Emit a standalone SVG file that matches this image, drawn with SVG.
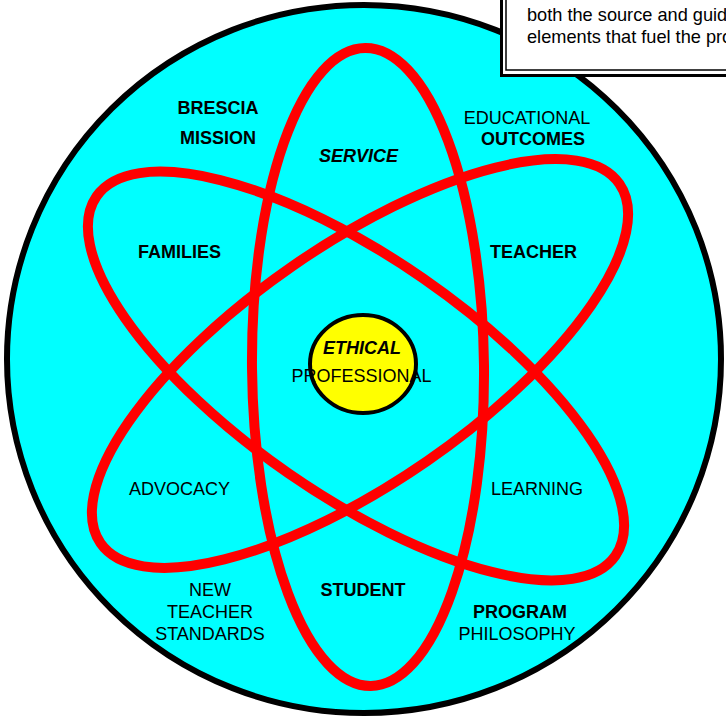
<svg xmlns="http://www.w3.org/2000/svg" width="726" height="723" viewBox="0 0 726 723">
  <style>
    .lbl { font-family: "Liberation Sans", Arial, sans-serif; font-size: 18px; fill: #000; text-anchor: middle; }
    .b { font-weight: bold; }
    .bi { font-weight: bold; font-style: italic; }
    .ring { fill: none; stroke: #ff0000; stroke-width: 10; }
    .note { font-family: "Liberation Sans", Arial, sans-serif; font-size: 18.2px; fill: #000; }
  </style>
  <rect width="726" height="723" fill="#ffffff"/>

  <!-- outer disc -->
  <g id="disc">
    <ellipse cx="364" cy="359" rx="357" ry="354" fill="#00ffff" stroke="#000" stroke-width="6"/>
  </g>

  <!-- three orbit rings -->
  <g id="rings">
    <ellipse class="ring" cx="0" cy="0" rx="116" ry="319" transform="translate(368 367) rotate(-0.5)"/>
    <ellipse class="ring" cx="0" cy="0" rx="315.6" ry="118.5" transform="translate(360 363.5) rotate(-34.7)"/>
    <ellipse class="ring" cx="0" cy="0" rx="315.6" ry="118.5" transform="translate(356 376) rotate(34.7)"/>
  </g>

  <!-- nucleus -->
  <g id="nucleus">
    <ellipse cx="363" cy="364" rx="53" ry="49" fill="#ffff00" stroke="#000" stroke-width="4"/>
    <text class="lbl bi" x="362" y="354">ETHICAL</text>
    <text class="lbl" x="361.5" y="382">PROFESSIONAL</text>
  </g>

  <!-- labels around the rings -->
  <g id="brescia-mission">
    <text class="lbl b" x="218" y="114">BRESCIA</text>
    <text class="lbl b" x="218" y="144">MISSION</text>
  </g>
  <g id="service"><text class="lbl bi" x="358.5" y="162">SERVICE</text></g>
  <g id="educational-outcomes">
    <text class="lbl" x="527" y="124">EDUCATIONAL</text>
    <text class="lbl b" x="533" y="145">OUTCOMES</text>
  </g>
  <g id="families"><text class="lbl b" x="179.5" y="258">FAMILIES</text></g>
  <g id="teacher"><text class="lbl b" x="533.5" y="258">TEACHER</text></g>
  <g id="advocacy"><text class="lbl" x="179.5" y="495">ADVOCACY</text></g>
  <g id="learning"><text class="lbl" x="537" y="495">LEARNING</text></g>
  <g id="student"><text class="lbl b" x="363" y="596">STUDENT</text></g>
  <g id="new-teacher-standards">
    <text class="lbl" x="210" y="596">NEW</text>
    <text class="lbl" x="210" y="618">TEACHER</text>
    <text class="lbl" x="210" y="640">STANDARDS</text>
  </g>
  <g id="program-philosophy">
    <text class="lbl b" x="520" y="618">PROGRAM</text>
    <text class="lbl" x="517" y="640">PHILOSOPHY</text>
  </g>

  <!-- caption box, double border, running off the top-right corner -->
  <g id="caption">
    <rect x="501.5" y="-10" width="240" height="85.5" fill="#fff" stroke="#000" stroke-width="3"/>
    <rect x="506" y="-10" width="240" height="80" fill="none" stroke="#000" stroke-width="1.5"/>
    <text class="note" x="527" y="20.5">both the source and guid</text>
    <text class="note" x="527" y="42.5">elements that fuel the pro</text>
  </g>
</svg>
